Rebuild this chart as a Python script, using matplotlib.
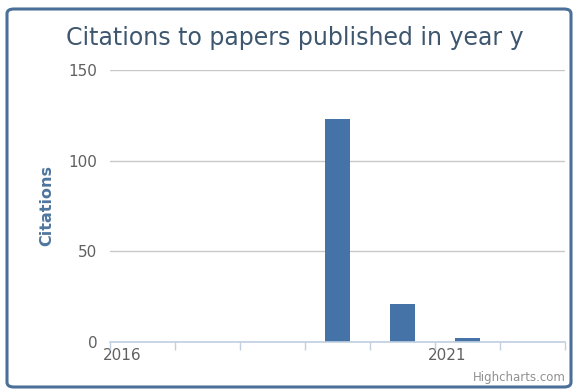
import numpy as np
import matplotlib.pyplot as plt
from matplotlib.patches import FancyBboxPatch

# data
years = [2016, 2017, 2018, 2019, 2020, 2021, 2022]
citations = [0, 0, 0, 123, 21, 2, 0]
label_years = [2016, 2021]
y_ticks = [0, 50, 100, 150]

W, H = 575, 389
fig = plt.figure(figsize=(W / 100, H / 100), dpi=100)
fig.patch.set_facecolor('white')

# rounded chart border
border = FancyBboxPatch((7 / W, 2 / H), 564 / W, 378 / H,
                        boxstyle='round,pad=0,rounding_size=0.012',
                        transform=fig.transFigure, facecolor='white',
                        edgecolor='#4a6f98', linewidth=2.2, zorder=0)
fig.patches.append(border)

ax = fig.add_axes([110 / W, 1 - 342 / H, 455 / W, 272 / H])
ax.set_zorder(2)
ax.set_facecolor('none')

x = np.arange(len(years))
ax.bar(x, citations, width=0.37, color='#4572A7', zorder=3)

ax.set_xlim(-0.5, len(years) - 0.5)
ax.set_ylim(0, 150)

# y axis
ax.set_yticks(y_ticks)
ax.set_yticklabels([str(v) for v in y_ticks])
ax.tick_params(axis='y', length=0, pad=9, labelsize=11, labelcolor='#606060')
ax.grid(axis='y', color='#c8c8c8', linewidth=1, zorder=0)

# x axis: ticks on category boundaries, labels slightly right of boundary
ax.set_xticks(np.arange(len(years) + 1) - 0.5, minor=True)
ax.tick_params(axis='x', which='minor', length=6, width=1, color='#c0d0e0', direction='out')
label_pos = [years.index(y) - 0.5 + 0.18 for y in label_years]
ax.set_xticks(label_pos)
ax.set_xticklabels([str(y) for y in label_years])
ax.tick_params(axis='x', which='major', length=0, pad=4, labelsize=11, labelcolor='#606060')

for s in ['top', 'right', 'left']:
    ax.spines[s].set_visible(False)
ax.spines['bottom'].set_color('#c0d0e0')
ax.spines['bottom'].set_linewidth(1.2)
ax.spines['bottom'].set_zorder(4)

ax.set_ylabel('Citations', fontsize=11.5, fontweight='bold', color='#4d759e', labelpad=10)

fig.text(295 / W, 1 - 38 / H, 'Citations to papers published in year y',
         ha='center', va='center', fontsize=17, color='#3e576f')
fig.text(566 / W, 1 - 377 / H, 'Highcharts.com', ha='right', va='center',
         fontsize=8.5, color='#909090')

fig.savefig('out.png', dpi=100)
